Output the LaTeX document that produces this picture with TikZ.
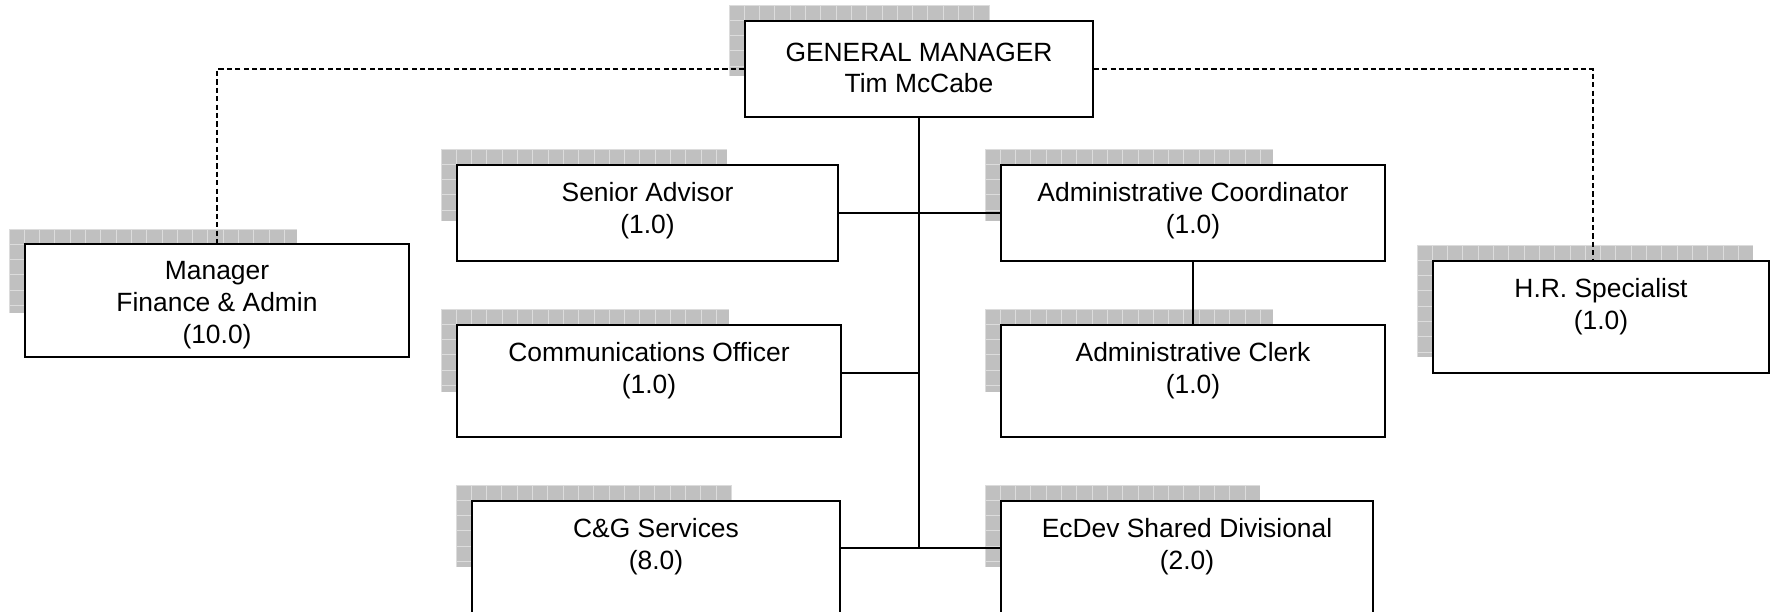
\documentclass[tikz,border=0pt]{standalone}
\usepackage{fontspec}
\setmainfont{Liberation Sans}
\definecolor{shadowgray}{HTML}{C0C0C0}
\definecolor{gridgray}{HTML}{DCDCDC}
\begin{document}
\begin{tikzpicture}[x=0.5pt,y=0.5pt]
    \tikzstyle{shadowfill} = [fill=shadowgray]
    \tikzstyle{shadowgrid} = [gridgray,line width=0.5pt,step=7.65pt]
    \tikzstyle{post} = [draw,line width=0.7pt,fill=white,inner sep=0pt]
    \tikzstyle{posttext} = [anchor=north,align=center,inner sep=0pt,font=\fontsize{13.2}{15.8}\selectfont]
    \tikzstyle{orgline} = [line width=0.65pt]
    \tikzstyle{dotline} = [line width=0.65pt,dash pattern=on 2.6pt off 1.6pt]

    \useasboundingbox (0,0) rectangle (1771,-611);
    \clip (0,0) rectangle (1771,-611);

    % grey gridded shadows
    \fill[shadowfill] (729,-5) rectangle (990,-76);
    \draw[shadowgrid,shift={(729,-5)}] (0,-71) grid (261,0);
    \fill[shadowfill] (9,-229) rectangle (297,-313);
    \draw[shadowgrid,shift={(9,-229)}] (0,-84) grid (288,0);
    \fill[shadowfill] (441,-149) rectangle (727,-221);
    \draw[shadowgrid,shift={(441,-149)}] (0,-72) grid (286,0);
    \fill[shadowfill] (441,-309) rectangle (729,-392);
    \draw[shadowgrid,shift={(441,-309)}] (0,-83) grid (288,0);
    \fill[shadowfill] (456,-485) rectangle (732,-567);
    \draw[shadowgrid,shift={(456,-485)}] (0,-82) grid (276,0);
    \fill[shadowfill] (985,-149) rectangle (1273,-221);
    \draw[shadowgrid,shift={(985,-149)}] (0,-72) grid (288,0);
    \fill[shadowfill] (985,-309) rectangle (1273,-392);
    \draw[shadowgrid,shift={(985,-309)}] (0,-83) grid (288,0);
    \fill[shadowfill] (985,-485) rectangle (1260,-567);
    \draw[shadowgrid,shift={(985,-485)}] (0,-82) grid (275,0);
    \fill[shadowfill] (1417,-245) rectangle (1753,-357);
    \draw[shadowgrid,shift={(1417,-245)}] (0,-112) grid (336,0);

    % boxes
    \node[post,minimum width=174pt,minimum height=48pt] (gm) at (919,-69) {};
    \node[post,minimum width=192pt,minimum height=56.5pt] (finance) at (217,-300.5) {};
    \node[post,minimum width=190.5pt,minimum height=48pt] (senior) at (647.5,-213) {};
    \node[post,minimum width=192pt,minimum height=56pt] (comms) at (649,-381) {};
    \node[post,minimum width=184pt,minimum height=69.5pt] (cgs) at (656,-570.5) {};
    \node[post,minimum width=192pt,minimum height=48pt] (coord) at (1193,-213) {};
    \node[post,minimum width=192pt,minimum height=56pt] (clerk) at (1193,-381) {};
    \node[post,minimum width=186pt,minimum height=69.5pt] (ecdev) at (1187,-570.5) {};
    \node[post,minimum width=168pt,minimum height=56pt] (hr) at (1601,-317) {};

    \node[posttext] (gmtext) at ([yshift=-11pt]gm.north) {GENERAL MANAGER\\Tim McCabe};
    \node[posttext] (financetext) at ([yshift=-9pt]finance.north) {Manager\\Finance \& Admin\\(10.0)};
    \node[posttext] (seniortext) at ([yshift=-9pt]senior.north) {Senior Advisor\\(1.0)};
    \node[posttext] (commstext) at ([yshift=-9pt]comms.north) {Communications Officer\\(1.0)};
    \node[posttext] (cgstext) at ([yshift=-9pt]cgs.north) {C\&G Services\\(8.0)};
    \node[posttext] (coordtext) at ([yshift=-9pt]coord.north) {Administrative Coordinator\\(1.0)};
    \node[posttext] (clerktext) at ([yshift=-9pt]clerk.north) {Administrative Clerk\\(1.0)};
    \node[posttext] (ecdevtext) at ([yshift=-9pt]ecdev.north) {EcDev Shared Divisional\\(2.0)};
    \node[posttext] (hrtext) at ([yshift=-9pt]hr.north) {H.R. Specialist\\(1.0)};

    % reporting lines
    \coordinate (jcomm) at (919,-373);
    \coordinate (jbot) at (919,-548);
    \draw[orgline] (gm.south) -- (jbot);
    \draw[orgline] (senior.east) -- (coord.west);
    \draw[orgline] (comms.east |- jcomm) -- (jcomm);
    \draw[orgline] (cgs.east |- jbot) -- (ecdev.west |- jbot);
    \draw[orgline] (coord.south) -- (clerk.north);
    \draw[dotline] (gm.west) -| (finance.north);
    \draw[dotline] (gm.east) -| ([xshift=-4pt]hr.north);
\end{tikzpicture}
\end{document}
